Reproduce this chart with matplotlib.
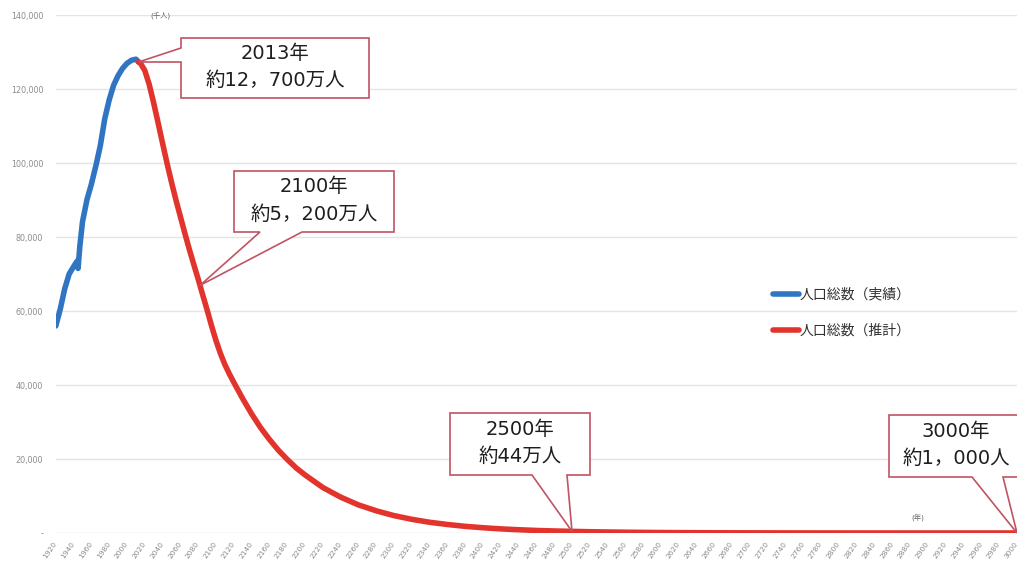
import numpy as np
import matplotlib
matplotlib.use('Agg')
import matplotlib.pyplot as plt
from matplotlib.patches import Polygon
from matplotlib.ticker import FuncFormatter, MultipleLocator

plt.rcParams['font.family'] = ['DejaVu Sans', 'Noto Sans CJK JP']

# 人口総数（実績） 単位：千人
years_actual = [1920, 1925, 1930, 1935, 1940, 1944, 1945, 1947, 1950, 1955, 1960,
                1965, 1970, 1975, 1980, 1985, 1990, 1995, 2000, 2005, 2010, 2013]
pop_actual = [55963, 60500, 66000, 70000, 72000, 73500, 71500, 77500, 84115, 90077,
              94302, 99209, 104665, 111940, 117060, 121049, 123611, 125570, 126926,
              127768, 128057, 127298]

# 人口総数（推計） 単位：千人
years_proj = [2013, 2015, 2020, 2025, 2030, 2035, 2040, 2045, 2050, 2055, 2060,
              2065, 2070, 2075, 2080, 2085, 2090, 2095, 2100, 2105, 2110, 2115, 2120,
              2130, 2140, 2150, 2160, 2170, 2180, 2190, 2200,
              2220, 2240, 2260, 2280, 2300, 2320, 2340, 2360, 2380, 2400,
              2420, 2440, 2460, 2480, 2500, 2520, 2540, 2560, 2580, 2600,
              2620, 2640, 2660, 2680, 2700, 2720, 2740, 2760, 2780, 2800,
              2820, 2840, 2860, 2880, 2900, 2920, 2940, 2960, 2980, 3000]
pop_proj = [127298, 127000, 125000, 121200, 116200, 110800, 105300, 99900, 94800, 90000, 85500,
            81000, 76700, 72600, 68600, 64400, 60300, 56000, 52000, 48500, 45500, 43000, 40700,
            36300, 32200, 28500, 25300, 22400, 19900, 17600, 15700,
            12300, 9700, 7600, 6000, 4700, 3700, 2900, 2300, 1800, 1420,
            1110, 880, 690, 545, 440, 345, 270, 212, 166, 130,
            102, 80, 63, 49, 39, 30, 24, 19, 14.6, 11.5,
            9.0, 7.0, 5.5, 4.3, 3.4, 2.7, 2.1, 1.6, 1.3, 1.0]

legend_labels = ['人口総数（実績）', '人口総数（推計）']

# callouts: (text, year the pointer hits)
callouts = [('2013年\n約12，700万人', 2013),
            ('2100年\n約5，200万人', 2082),
            ('2500年\n約44万人', 2500),
            ('3000年\n約1，000人', 3000)]

W, H = 1017, 565
blue = '#2F75C2'
red = '#E2342D'
edge = '#C05462'

fig = plt.figure(figsize=(W / 100, H / 100), dpi=100)
ax = fig.add_axes([55.8 / W, (H - 533) / H, (W - 55.8) / W, (533 - 15) / H])

ax.plot(years_actual, pop_actual, color=blue, lw=4.0, solid_capstyle='round',
        solid_joinstyle='round', label=legend_labels[0], zorder=3)
ax.plot(years_proj, pop_proj, color=red, lw=4.0, solid_capstyle='round',
        solid_joinstyle='round', label=legend_labels[1], zorder=3)

ax.set_xlim(1920, 3000)
ax.set_ylim(0, 140000)
ax.xaxis.set_major_locator(MultipleLocator(20))
ax.yaxis.set_major_locator(MultipleLocator(20000))
ax.yaxis.set_major_formatter(FuncFormatter(lambda v, p: '-' if v == 0 else f'{int(v):,}'))
ax.grid(axis='y', color='#E4E4E4', lw=1.0, zorder=0)
ax.tick_params(axis='both', length=0, colors='#8C8C8C')
ax.tick_params(axis='y', labelsize=5.8, pad=9)
ax.tick_params(axis='x', labelsize=5.4, pad=7)
for lab in ax.get_xticklabels():
    lab.set_rotation(55)
    lab.set_ha('right')
    lab.set_va('center')
    lab.set_rotation_mode('anchor')
for s in ax.spines.values():
    s.set_visible(False)

fig.text(160 / W, 1 - 15 / H, '(千人)', fontsize=5.2, color='#666666',
         ha='center', va='center')
fig.text(918 / W, 1 - 517 / H, '(年)', fontsize=5.2, color='#666666',
         ha='center', va='center')

leg = ax.legend(loc='upper left', bbox_to_anchor=((767 - 55.8) / (W - 55.8), (533 - 282) / (533 - 15)),
                frameon=False, prop={'family': 'Noto Sans CJK JP', 'size': 10},
                handlelength=1.9, handletextpad=0.05, labelspacing=1.6, borderaxespad=0)
for t in leg.get_texts():
    t.set_color('#303030')


def to_fig(x, y):
    return (x / W, 1 - y / H)


def data_fig(year, val):
    disp = ax.transData.transform((year, val))
    return tuple(fig.transFigure.inverted().transform(disp))


# box (left, top, right, bottom) in pixels, pointer side and base
layout = [((181, 38, 369, 98), 'left', (48, 62)),
          ((234, 171, 394, 232), 'bottom', (260, 302)),
          ((450, 413, 590, 475), 'bottom', (532, 567)),
          ((889, 415, 1023, 477), 'bottom', (972, 1003))]

for (text, yr), (box, side, base) in zip(callouts, layout):
    x0, y0, x1, y1 = box
    if yr <= 2013:
        tip = data_fig(yr, pop_actual[-1])
    else:
        tip = data_fig(yr, np.interp(yr, years_proj, pop_proj))
    if side == 'left':
        pts = [to_fig(x0, y0), to_fig(x1, y0), to_fig(x1, y1), to_fig(x0, y1),
               to_fig(x0, base[1]), tip, to_fig(x0, base[0])]
    else:
        pts = [to_fig(x0, y0), to_fig(x1, y0), to_fig(x1, y1), to_fig(base[1], y1),
               tip, to_fig(base[0], y1), to_fig(x0, y1)]
    fig.add_artist(Polygon(pts, closed=True, transform=fig.transFigure,
                           facecolor='white', edgecolor=edge, lw=1.2, zorder=5))
    fig.text((x0 + x1) / 2 / W, 1 - (y0 + y1) / 2 / H + 1 / H, text, fontsize=14,
             color='#1E1E1E', ha='center', va='center', linespacing=1.55,
             zorder=6)

fig.savefig('out.png', dpi=100, facecolor='white')
